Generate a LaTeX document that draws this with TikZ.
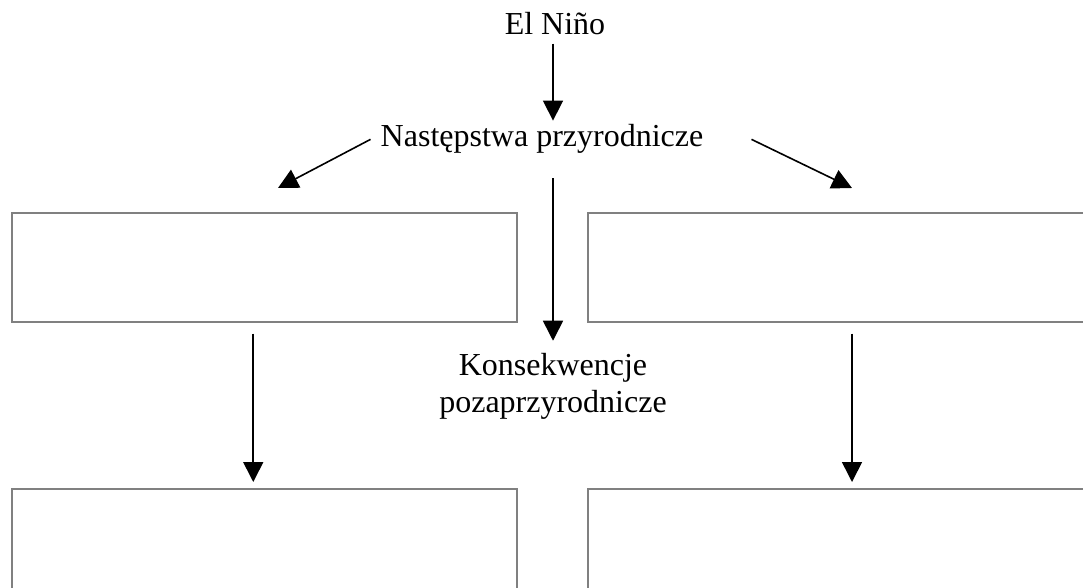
\documentclass[tikz,border=0pt]{standalone}
\usepackage{fontspec}
\setmainfont{Liberation Serif}
\usepackage{tikz}
\usetikzlibrary{positioning,arrows.meta}

\begin{document}
\begin{tikzpicture}[x=1pt,y=-1pt,
    txt/.style={inner sep=4pt,font=\fontsize{32}{37}\selectfont},
    box/.style={draw=gray,line width=1.5pt,minimum width=505pt,minimum height=109pt,inner sep=0pt},
    arr/.style={line width=1.6pt,-{Triangle[length=20pt,width=20pt]}}]
    \useasboundingbox (0,0) rectangle (1083,588);

    \node[txt,anchor=base] (elnino) at (555,35) {El Niño};
    \node[txt,anchor=base] (skutki) at (542,147) {Następstwa przyrodnicze};
    \node[txt,align=center] (konsek) at (553,386) {Konsekwencje\\pozaprzyrodnicze};

    \node[box,anchor=north west] (tl) at (11,212) {};
    \node[box,anchor=north west,minimum width=520pt] (tr) at (587,212) {};
    \node[box,anchor=north west] (bl) at (11,488) {};
    \node[box,anchor=north west,minimum width=520pt] (br) at (587,488) {};

    \coordinate (tipL) at (278,188);
    \coordinate (tipR) at (852,188);

    \draw[arr,shorten <=4pt] ([xshift=-2pt]elnino.south) -- ([xshift=-2pt]elnino.south |- skutki.north);
    \draw[arr] ([xshift=-6pt]skutki.west) -- (tipL);
    \draw[arr] ([xshift=44pt]skutki.east) -- (tipR);
    \draw[arr,shorten <=20pt,shorten >=8pt] (skutki.south -| konsek) -- (konsek.north);
    \draw[arr,shorten <=11pt,shorten >=6pt] ([xshift=-11pt]tl.south) -- ([xshift=-11pt]bl.north);
    \draw[arr,shorten <=11pt,shorten >=6pt] (tr.south -| tipR) -- (br.north -| tipR);
\end{tikzpicture}
\end{document}
